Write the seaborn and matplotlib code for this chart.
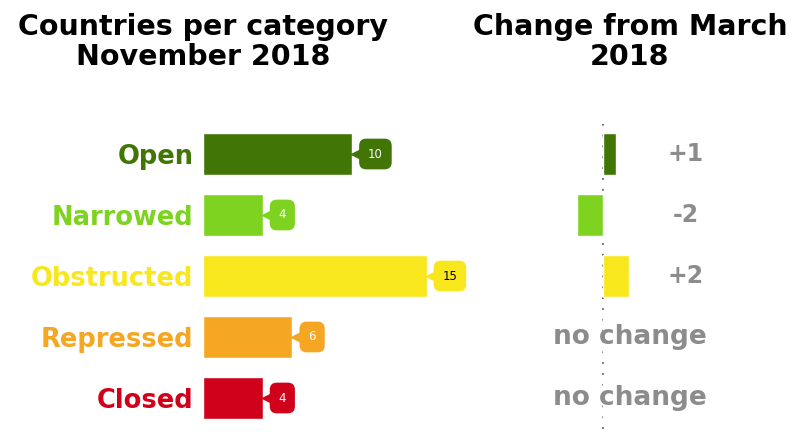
import numpy as np
import pandas as pd
import matplotlib
matplotlib.use("Agg")
import matplotlib.pyplot as plt
import seaborn as sns
from matplotlib.transforms import offset_copy

# data
categories = ["Open", "Narrowed", "Obstructed", "Repressed", "Closed"]
counts = [10, 4, 15, 6, 4]
changes = [1, -2, 2, 0, 0]
colors = ["#417505", "#7ed321", "#f8e71c", "#f5a623", "#d0021b"]
label_text_colors = ["white", "white", "black", "white", "white"]

df = pd.DataFrame({"category": categories, "count": counts, "change": changes})
palette = dict(zip(categories, colors))

sns.set_style("white")
plt.rcParams["font.family"] = ["DejaVu Sans"]

fig = plt.figure(figsize=(7.97, 4.32), dpi=100)
W, H = 797, 432

# left panel: counts
ax = fig.add_axes([203 / W, 1 - 428.5 / H, 298 / W, 305 / H])
sns.barplot(data=df, x="count", y="category", hue="category", palette=palette,
            saturation=1, width=0.7, legend=False, ax=ax, orient="h")
ax.set_xlim(0, 20)
ax.set_ylim(4.5, -0.5)
ax.set_xlabel("")
ax.set_ylabel("")
ax.set_xticks([])
sns.despine(ax=ax, left=True, bottom=True)
ax.tick_params(axis="y", length=0, pad=7)
for lab, c in zip(ax.get_yticklabels(), colors):
    lab.set_color(c)
    lab.set_fontweight("bold")
    lab.set_fontsize(18.5)

# callout labels
tri = offset_copy(ax.transData, fig=fig, x=5, y=0, units="dots")
for i, (v, c, tc) in enumerate(zip(counts, colors, label_text_colors)):
    ax.plot(v, i, marker="<", ms=8, color=c, transform=tri, clip_on=False)
    ax.annotate(str(v), xy=(v, i), xytext=(11.5, 0), textcoords="offset points",
                ha="left", va="center", fontsize=8.5, color=tc,
                bbox=dict(boxstyle="round,pad=0.75,rounding_size=0.6", fc=c, ec="none"))

# right panel: change from March
ax2 = fig.add_axes([545 / W, 1 - 428.5 / H, 252 / W, 305 / H])
sns.barplot(data=df, x="change", y="category", hue="category", palette=palette,
            saturation=1, width=0.7, legend=False, ax=ax2, orient="h")
ax2.set_xlim(-4.45, 14.95)
ax2.set_ylim(4.5, -0.5)
ax2.axvline(0, color="#666666", ls=(0, (1, 5)), lw=1.3, zorder=0)
ax2.set_xlabel("")
ax2.set_ylabel("")
ax2.set_xticks([])
ax2.set_yticks([])
sns.despine(ax=ax2, left=True, bottom=True)
for i, v in enumerate(changes):
    if v == 0:
        ax2.text(2.1, i, "no change", ha="center", va="center", fontsize=19,
                 fontweight="bold", color="#8c8c8c")
    else:
        ax2.text(6.4, i, f"{v:+d}", ha="center", va="center", fontsize=17,
                 fontweight="bold", color="#8c8c8c")

# titles
fig.text(203 / W, 1 - 13 / H, "Countries per category\nNovember 2018", ha="center",
         va="top", fontsize=20.5, fontweight="bold", linespacing=1.08, color="black")
fig.text(630 / W, 1 - 13 / H, "Change from March\n2018", ha="center",
         va="top", fontsize=20.5, fontweight="bold", linespacing=1.08, color="black")

fig.savefig("out.png", dpi=100)
